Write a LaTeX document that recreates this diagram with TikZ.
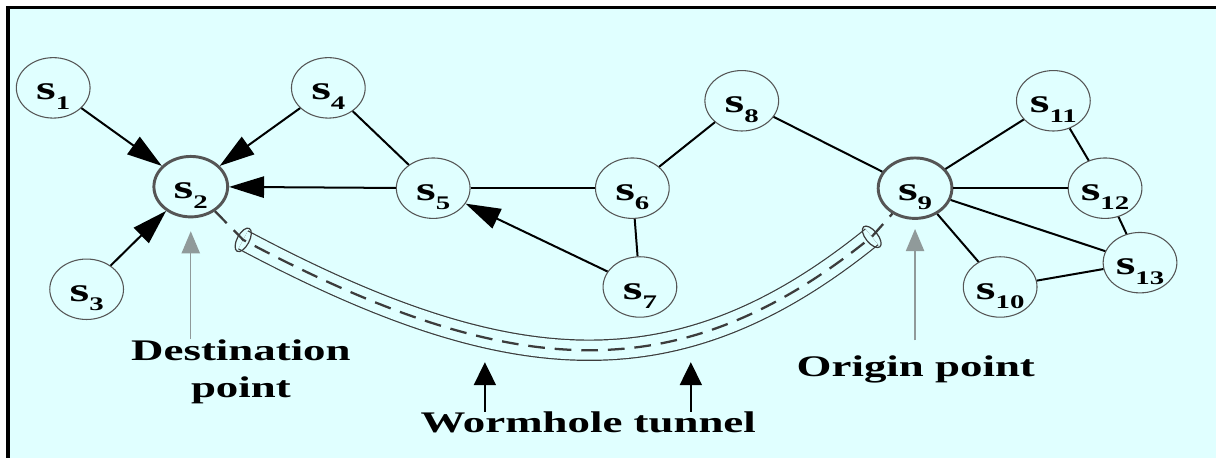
\documentclass[tikz,border=0pt]{standalone}
\usepackage{fontspec}
\setmainfont{Liberation Serif}[FakeStretch=1.5]
\usetikzlibrary{positioning, arrows.meta, calc, shapes.geometric}
\definecolor{bgcyan}{HTML}{E0FFFF}
\definecolor{rimgrey}{HTML}{555555}
\definecolor{pointgrey}{HTML}{909A9A}
\definecolor{tubegrey}{HTML}{3C3C3C}

% sensor label with lowered index
\newcommand{\sn}[1]{s\raisebox{-3.6pt}{\fontsize{7.2}{8}\selectfont #1}}

\begin{document}
\begin{tikzpicture}[
    >=Stealth,
    % Sensor node (plain ellipse)
    sensor/.style={ellipse, draw=rimgrey, line width=0.4pt, minimum width=0.97cm, minimum height=0.70cm,
        inner sep=0pt, text height=12.5pt, text depth=3.5pt, font=\fontsize{12.6}{14}\selectfont\bfseries},
    % Endpoints of the tunnel (thick grey rim)
    endpt/.style={sensor, line width=1.1pt},
    % Plain link and directed link
    link/.style={line width=0.75pt},
    arr/.style={link, -{Triangle[length=0.46cm, width=0.28cm]}},
    % Tunnel tube and its dashed core
    tube/.style={draw=tubegrey, line width=0.45pt, double=bgcyan, double distance=0.25cm},
    core/.style={draw=tubegrey, line width=0.85pt, dash pattern=on 0.22cm off 0.13cm},
    capline/.style={draw=tubegrey, line width=0.45pt},
    % Annotation arrows and labels
    greyarr/.style={draw=pointgrey, line width=0.5pt, -{Triangle[length=0.29cm, width=0.24cm]}},
    blackarr/.style={line width=0.5pt, -{Triangle[length=0.30cm, width=0.29cm]}},
    lbl/.style={inner sep=0pt, font=\fontsize{11.2}{13.8}\selectfont\bfseries, align=center},
]

% --- frame and background ---
\useasboundingbox (0,0) rectangle (16,6.026);
\clip (0,0) rectangle (16,6.026);
\fill[bgcyan] (0.105,5.93) rectangle (16.5,-0.5);
\draw[line width=1.2pt] (16.5,5.93) -- (0.105,5.93) -- (0.105,-0.5);

% --- sensors ---
\node[sensor] (s1) at (0.70, 4.87) {\sn{1}};
\node[endpt]  (s2) at (2.51, 3.57) {\sn{2}};
\node[sensor] (s3) at (1.14, 2.22) {\sn{3}};
\node[sensor] (s4) at (4.32, 4.87) {\sn{4}};
\node[sensor] (s5) at (5.70, 3.55) {\sn{5}};
\node[sensor] (s6) at (8.32, 3.55) {\sn{6}};
\node[sensor] (s7) at (8.42, 2.25) {\sn{7}};
\node[sensor] (s8) at (9.76, 4.70) {\sn{8}};
\node[endpt]  (s9) at (12.04, 3.55) {\sn{9}};
\node[sensor] (s10) at (13.16, 2.25) {\sn{10}};
\node[sensor] (s11) at (13.86, 4.70) {\sn{11}};
\node[sensor] (s12) at (14.54, 3.55) {\sn{12}};
\node[sensor] (s13) at (15.00, 2.57) {\sn{13}};

% --- links ---
\draw[arr] (s1) -- (s2);
\draw[arr] (s4) -- (s2);
\draw[arr] (s3) -- (s2);
\draw[arr] (s5) -- (s2);
\draw[arr] (s7) -- (s5);
\draw[link] (s4) -- (s5);
\draw[link] (s5) -- (s6);
\draw[link] (s6) -- (s7);
\draw[link] (s6) -- (s8);
\draw[link] (s8) -- (s9);
\foreach \j in {10,11,12,13}
    \draw[link] (s9) -- (s\j);
\draw[link] (s11) -- (s12);
\draw[link] (s12) -- (s13);
\draw[link] (s13) -- (s10);

% --- wormhole tunnel ---
\coordinate (tunA) at (3.20, 2.87);
\coordinate (tunB) at (11.47, 2.91);
\draw[tube] (tunA) .. controls +(-28:3.95) and +(219:3.29) .. (tunB);
\draw[core] (s2) -- (tunA) .. controls +(-28:3.95) and +(219:3.29) .. (tunB) -- (s9);
\draw[capline, shift={(tunA)}, rotate=62] (0,0) ellipse (0.17 and 0.08);
\draw[capline, shift={(tunB)}, rotate=-51] (0,0) ellipse (0.17 and 0.08);

% --- labels ---
\node[lbl] (dest) at (3.17, 1.137) {Destination\\point};
\node[lbl, anchor=base] (orig) at (12.05, 1.066) {Origin point};
\node[lbl, anchor=base] (worm) at (7.74, 0.33) {Wormhole tunnel};

\draw[greyarr, shorten >=0.17cm] (s2.south |- dest.north) -- (s2.south);
\draw[greyarr, shorten <=0.2cm, shorten >=0.12cm] (s9.south |- orig.north) -- (s9.south);

\coordinate (wtipA) at (6.38, 1.26);
\coordinate (wtipB) at (9.09, 1.26);
\draw[blackarr] (wtipA |- worm.north) -- (wtipA);
\draw[blackarr] (wtipB |- worm.north) -- (wtipB);

\end{tikzpicture}
\end{document}
